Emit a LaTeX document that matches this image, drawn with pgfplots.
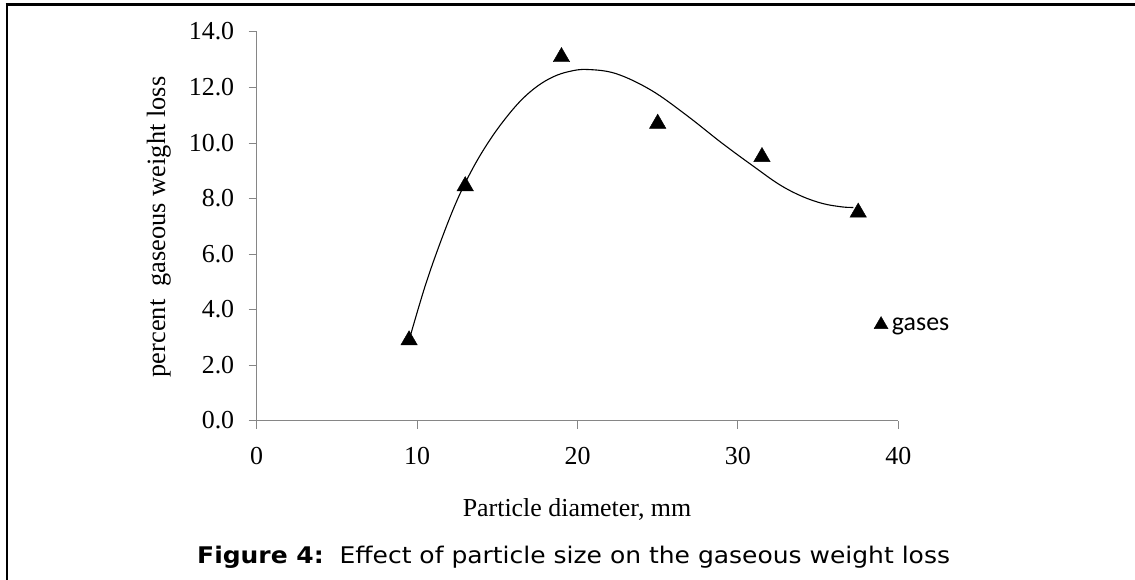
\documentclass[border=0pt]{standalone}
\usepackage{fontspec}
\setmainfont{Liberation Serif}
\newfontfamily\capfont{DejaVu Sans}
\newfontfamily\legfont{Carlito}
\usepackage{graphicx}
\usepackage{pgfplots}
\pgfplotsset{compat=1.18}
\definecolor{axisgray}{RGB}{134,134,134}
\begin{document}
\begin{tikzpicture}[x=1bp,y=1bp]
\path[use as bounding box] (0,0) rectangle (1135,-580);
\draw[line width=2.5bp] (5.5,-4.3) -- (1135,-4.3);
\draw[line width=2bp] (6.5,-4.3) -- (6.5,-580);
\begin{axis}[
  at={(256.7bp,-420.7bp)}, anchor=south west,
  scale only axis, width=641.6bp, height=388.7bp,
  xmin=0, xmax=40, ymin=0, ymax=14,
  axis x line=bottom, axis y line=left,
  axis line style={-, draw=axisgray, line width=1.2bp},
  xtick={0,10,20,30,40}, ytick={0,2,4,6,8,10,12,14},
  tick align=outside, major tick length=8bp,
  tick style={draw=axisgray, line width=1bp},
  minor tick num=0,
  /pgf/number format/assume math mode=true,
  ticklabel style={font=\fontsize{26}{26}\selectfont},
  y tick label style={/pgf/number format/fixed, /pgf/number format/fixed zerofill, /pgf/number format/precision=1},
  yticklabel style={anchor=base east, xshift=-11bp, yshift=-8bp},
  xticklabel style={anchor=base, yshift=-35.5bp},
  clip=false,
  legend style={at={(axis cs:38.48,3.48)}, anchor=west, draw=none, fill=none,
    font=\legfont\fontsize{26}{26}\selectfont, inner sep=0pt,
    nodes={inner sep=0pt}, /tikz/column sep=4bp},
  legend image code/.code={\draw[mark=triangle*, mark size=8bp, black] plot coordinates {(7bp,0bp)};},
]
\addplot[smooth, tension=0.6, black, line width=1.1bp, no marks, forget plot] coordinates {
(9.5,2.9) (10.5,4.85) (11.5,6.5) (12.5,7.95) (13.5,9.12) (14.5,10.08) (15.5,10.88)
(16.5,11.55) (17.5,12.05) (18.5,12.39) (19.5,12.58) (20.6,12.65) (22.4,12.5)
(24.6,11.9) (26.8,11.0) (29.0,10.0) (31.0,9.15) (32.6,8.5) (34.0,8.08) (35.3,7.82) (36.5,7.7) (37.2,7.68)
};
\addplot[only marks, mark=triangle*, mark size=9.5bp, black] coordinates {
(9.5,2.9) (13,8.45) (19,13.1) (25,10.7) (31.5,9.5) (37.5,7.5)
};
\addlegendentry{gases}
\end{axis}
\node[anchor=base, inner sep=0pt, font=\fontsize{26}{26}\selectfont] at (577,-516) {Particle diameter, mm};
\node[rotate=90, anchor=base, inner sep=0pt, font=\fontsize{26.5}{26.5}\selectfont] at (165,-227) {percent\ \ gaseous weight loss};
\node[anchor=base west, inner sep=0pt, font=\capfont\fontsize{23}{23}\selectfont] at (197,-563) {\scalebox{1.09}[1]{\textbf{Figure 4:}\ \ Effect of particle size on the gaseous weight loss}};
\end{tikzpicture}
\end{document}
